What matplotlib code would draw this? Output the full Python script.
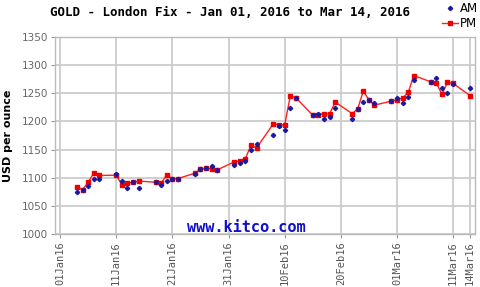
import numpy as np
import matplotlib
matplotlib.use("Agg")
import matplotlib.pyplot as plt
import matplotlib.dates as mdates
from datetime import datetime

# trading days and fix prices (USD per ounce)
dates = ["2016-01-04", "2016-01-05", "2016-01-06", "2016-01-07", "2016-01-08",
         "2016-01-11", "2016-01-12", "2016-01-13", "2016-01-14", "2016-01-15",
         "2016-01-18", "2016-01-19", "2016-01-20", "2016-01-21", "2016-01-22",
         "2016-01-25", "2016-01-26", "2016-01-27", "2016-01-28", "2016-01-29",
         "2016-02-01", "2016-02-02", "2016-02-03", "2016-02-04", "2016-02-05",
         "2016-02-08", "2016-02-09", "2016-02-10", "2016-02-11", "2016-02-12",
         "2016-02-15", "2016-02-16", "2016-02-17", "2016-02-18", "2016-02-19",
         "2016-02-22", "2016-02-23", "2016-02-24", "2016-02-25", "2016-02-26",
         "2016-02-29", "2016-03-01", "2016-03-02", "2016-03-03", "2016-03-04",
         "2016-03-07", "2016-03-08", "2016-03-09", "2016-03-10", "2016-03-11",
         "2016-03-14"]
am = [1075, 1078, 1084.5, 1098, 1098,
      1106, 1095, 1082.5, 1091.5, 1082.5,
      1092, 1087.5, 1094.5, 1098, 1097,
      1107, 1115.5, 1118, 1121, 1114,
      1123, 1126, 1130, 1149, 1160,
      1175.5, 1192.5, 1185, 1224.5, 1242,
      1211, 1214, 1205, 1207, 1224.5,
      1205, 1221.5, 1234.5, 1238.5, 1232,
      1235.5, 1241, 1233, 1244, 1273,
      1269.5, 1277, 1259, 1250, 1266,
      1259.5]
pm = [1084, 1078.5, 1092, 1108, 1104,
      1104.5, 1087.5, 1090.5, 1092, 1094,
      1092, 1090.5, 1105, 1098, 1098.5,
      1108, 1115.5, 1116.5, 1116, 1114,
      1128, 1130, 1134, 1157.5, 1153,
      1196, 1194, 1193.5, 1245, 1242,
      1211, 1212, 1213.5, 1213.5, 1234.5,
      1214, 1222, 1254, 1238.5, 1229,
      1236, 1238.5, 1241.5, 1251.5, 1281.5,
      1270.5, 1269, 1248, 1269.5, 1267.5,
      1246]
tick_dates = ["2016-01-01", "2016-01-11", "2016-01-21", "2016-01-31", "2016-02-10",
              "2016-02-20", "2016-03-01", "2016-03-11", "2016-03-14"]
y_ticks = [1000, 1050, 1100, 1150, 1200, 1250, 1300, 1350]

x = [datetime.strptime(d, "%Y-%m-%d") for d in dates]
xt = [datetime.strptime(d, "%Y-%m-%d") for d in tick_dates]

fig = plt.figure(figsize=(4.8, 2.87), dpi=100)
ax = fig.add_axes([0.1146, 0.1847, 0.875, 0.6864])

ax.plot(x, pm, color="#ff2020", lw=1.0, marker="s", ms=3.2, mec="#ee0000",
        mfc="#ee0000", label="PM", zorder=3)
ax.plot(x, am, ls="none", marker="D", ms=2.2, color="#1a1aa0", label="AM", zorder=4)

x0 = mdates.date2num(datetime(2016, 1, 1))
ax.set_xlim(x0 - 0.9, x0 + 73.9)
ax.set_ylim(1000, 1350)
ax.set_xticks(xt)
ax.xaxis.set_major_formatter(mdates.DateFormatter("%d%b%y"))
ax.set_yticks(y_ticks)

ax.grid(True, color="#cccccc", lw=1.3)
ax.set_axisbelow(True)
for s in ax.spines.values():
    s.set_color("#bbbbbb")
    s.set_linewidth(1.0)

ax.tick_params(axis="x", length=3, color="#999999", labelcolor="#555555",
               labelrotation=90, labelsize=7.5, pad=2)
ax.tick_params(axis="y", length=3, color="#999999", labelcolor="#666666",
               labelsize=7.5, pad=2)
for lb in ax.get_xticklabels():
    lb.set_fontfamily("DejaVu Sans Mono")

ax.set_ylabel("USD per ounce", fontsize=8, fontweight="bold", labelpad=6)

fig.text(0.48, 0.955, "GOLD - London Fix - Jan 01, 2016 to Mar 14, 2016",
         ha="center", va="center", fontsize=9, fontweight="bold",
         family="DejaVu Sans Mono")
ax.text(0.455, 0.035, "www.kitco.com", transform=ax.transAxes, ha="center",
        va="center", fontsize=11, fontweight="bold", color="#1010cc",
        family="DejaVu Sans Mono")

h, l = ax.get_legend_handles_labels()
fig.legend(h[::-1], l[::-1], loc="upper right", bbox_to_anchor=(1.0, 1.0),
           frameon=False, fontsize=8.5, handlelength=1.4, handletextpad=0.1,
           labelspacing=0.15, borderaxespad=0.1, borderpad=0.1)

fig.savefig("out.png", dpi=100)
